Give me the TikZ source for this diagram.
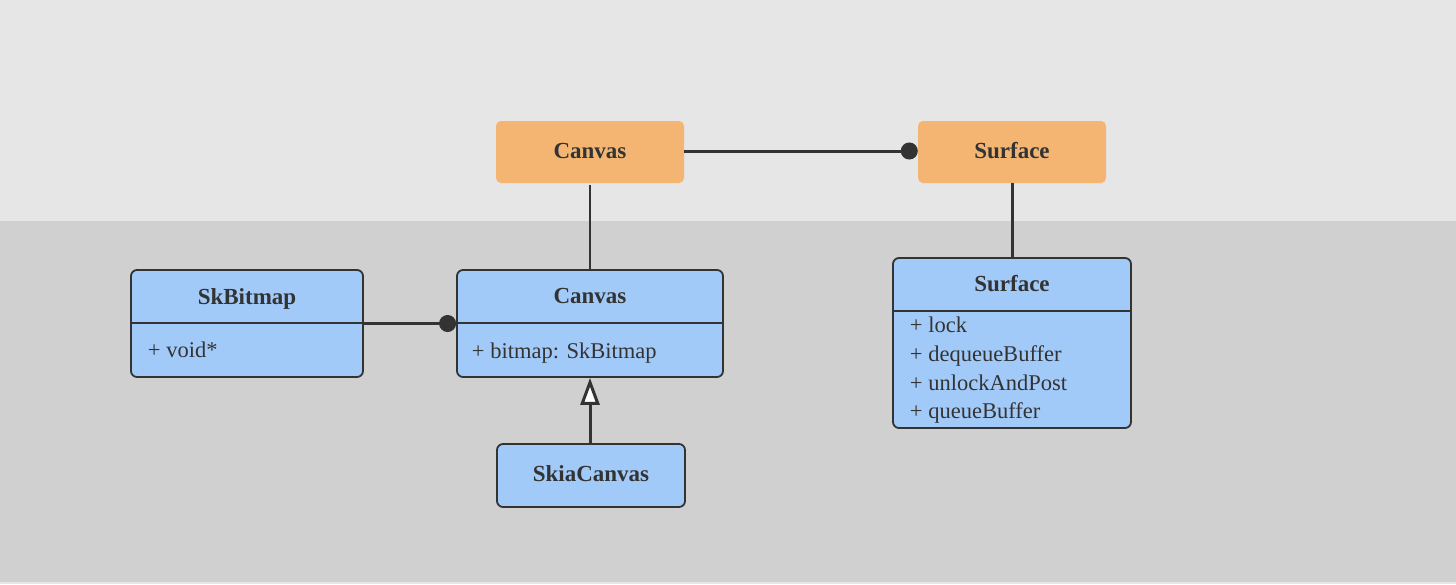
\documentclass[tikz,border=0pt]{standalone}
\usepackage{fontspec}
\setmainfont{Liberation Serif}
\usetikzlibrary{arrows.meta}

\definecolor{bgtop}{RGB}{230,230,230}
\definecolor{bgbottom}{RGB}{208,208,208}
\definecolor{ink}{RGB}{51,51,51}
\definecolor{orangefill}{RGB}{244,181,114}
\definecolor{bluefill}{RGB}{162,202,249}

\tikzset{
  objectbox/.style={fill=orangefill, rounded corners=5pt, inner sep=0pt},
  classbox/.style={draw=ink, fill=bluefill, line width=1.8pt, rounded corners=6pt, inner sep=0pt},
  titletext/.style={text=ink, inner sep=0.75pt, anchor=base, font=\fontsize{23}{27}\selectfont\bfseries},
  membertext/.style={text=ink, inner sep=0.75pt, anchor=base west, font=\fontsize{22.5}{27}\selectfont},
  link/.style={draw=ink, line width=3pt},
  thinlink/.style={draw=ink, line width=1.5pt},
}

\begin{document}
\begin{tikzpicture}[x=1pt,y=1pt,yscale=-1,xscale=1]
    \useasboundingbox (0,0) rectangle (1456,584);

    %Shape: Background bands
    \fill[bgtop] (0,0) rectangle (1456,221);
    \fill[bgbottom] (0,221) rectangle (1456,582);
    \fill[bgtop] (0,582) rectangle (1456,584);

    %Shape: Object boxes
    \node[objectbox, minimum width=188pt, minimum height=62pt] (canvasobj) at (590,152) {};
    \node[objectbox, minimum width=188pt, minimum height=62pt] (surfaceobj) at (1012,152) {};

    %Shape: Class boxes
    \node[classbox, minimum width=232pt, minimum height=107pt] (skbitmap) at (247,323.5) {};
    \draw[ink, line width=1.8pt] ([yshift=54pt]skbitmap.north west) -- ([yshift=54pt]skbitmap.north east);
    \node[classbox, minimum width=266pt, minimum height=107pt] (canvascls) at (590,323.5) {};
    \draw[ink, line width=1.8pt] ([yshift=54pt]canvascls.north west) -- ([yshift=54pt]canvascls.north east);
    \node[classbox, minimum width=188pt, minimum height=63pt] (skiacanvas) at (591,475.5) {};
    \node[classbox, minimum width=238pt, minimum height=170pt] (surfacecls) at (1012,343) {};
    \draw[ink, line width=1.8pt] ([yshift=54pt]surfacecls.north west) -- ([yshift=54pt]surfacecls.north east);

    %Straight Lines
    \draw[link, -{Circle[length=17pt]}] (canvasobj.east |- 0,151) -- (surfaceobj.west |- 0,151);
    \draw[thinlink] ([yshift=2pt]canvasobj.south) -- (canvascls.north);
    \draw[link] (surfaceobj.south) -- (surfacecls.north);
    \draw[link, -{Circle[length=17pt]}] (skbitmap.east) -- (canvascls.west);
    \draw[link, -{Triangle[length=27pt, width=19pt, fill=white]}] (skiacanvas.north -| canvascls.south) -- (canvascls.south);

    % Text Node
    \node[titletext] (canvasobjname) at (590,158) {Canvas};
    % Text Node
    \node[titletext] (surfaceobjname) at (1012,158) {Surface};
    % Text Node
    \node[titletext] (skbitmapname) at (247,304) {SkBitmap};
    \node[membertext] (skbitmapattr) at (147,357) {+ void*};
    % Text Node
    \node[titletext] (canvasclsname) at (590,303.5) {Canvas};
    \node[membertext] (canvasclsattr) at (471,358) {+ bitmap: SkBitmap};
    % Text Node
    \node[titletext] (skiacanvasname) at (591,481) {SkiaCanvas};
    % Text Node
    \node[titletext] (surfaceclsname) at (1012,291.5) {Surface};
    \node[membertext] (surfacelock) at (909,332) {+ lock};
    \node[membertext] (surfacedequeue) at (909,361) {+ dequeueBuffer};
    \node[membertext] (surfaceunlock) at (909,390) {+ unlockAndPost};
    \node[membertext] (surfacequeue) at (909,418) {+ queueBuffer};

\end{tikzpicture}
\end{document}
